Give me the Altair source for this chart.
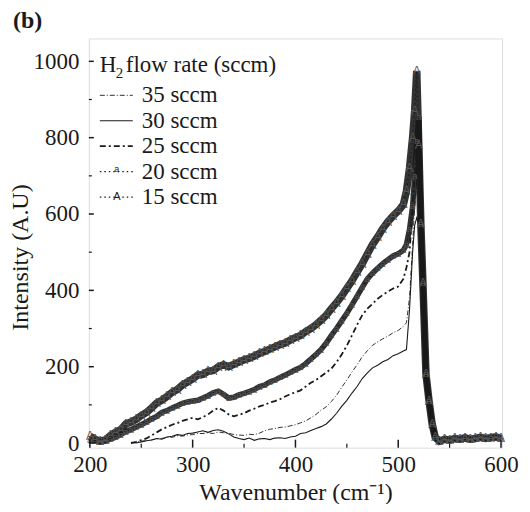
import altair as alt
import pandas as pd

# ---------------- data ----------------
wavenumber = (list(range(200, 510, 5))
              + [508, 511, 514, 516, 518, 520, 522, 524, 527, 530, 533, 536]
              + list(range(540, 605, 5)))

N = None
s15 = [18, 10, 5, 8, 20, 28, 35, 50, 55, 62,
       72, 80, 92, 105, 112, 122, 133, 140, 152, 160,
       168, 178, 180, 188, 190, 200, 205, 200, 206, 212,
       218, 222, 228, 235, 240, 246, 252, 258, 262, 270,
       276, 282, 292, 300, 310, 322, 335, 352, 368, 385,
       405, 425, 448, 470, 495, 520, 540, 562, 580, 595,
       608, 625,
       660, 720, 800, 870, 975, 780, 575, 420, 180, 110, 50, 15,
       5, 10, 8, 12, 10, 14, 10, 12, 15, 12, 14, 16, 12]
s20 = [8, 5, 3, 5, 10, 15, 22, 30, 35, 42,
       48, 55, 63, 70, 80, 85, 92, 98, 104, 108,
       110, 112, 118, 124, 132, 136, 128, 118, 120, 126,
       130, 135, 140, 148, 152, 160, 165, 172, 178, 185,
       192, 198, 208, 220, 232, 245, 262, 282, 300, 320,
       340, 362, 385, 408, 430, 445, 458, 470, 480, 490,
       496, 505,
       520, 560, 620, 700, 790, 855, 575, 420, 180, 110, 50, 15,
       3, 8, 6, 10, 8, 12, 9, 10, 13, 10, 12, 14, 10]
s25 = [N, N, N, N, N, N, N, N, 0, 3,
       8, 12, 20, 28, 36, 42, 48, 52, 58, 62,
       66, 62, 68, 75, 85, 92, 85, 75, 70, 74,
       78, 85, 90, 96, 100, 106, 110, 115, 122, 128,
       133, 138, 148, 158, 165, 175, 185, 195, 212, 232,
       255, 282, 310, 335, 352, 365, 378, 388, 397, 405,
       410, 430,
       460, 500, 620, 700, 750, 700, 575, 420, 180, 110, 50, 15,
       5, 6, 5, 8, 6, 9, 7, 8, 10, 8, 9, 11, 8]
s30 = [N, N, N, N, N, N, N, N, 2, 0,
       3, 6, 8, 12, 10, 16, 18, 22, 20, 25,
       26, 29, 32, 28, 33, 35, 31, 24, 16, 12,
       9, 13, 7, 11, 12, 9, 13, 14, 12, 16,
       18, 25, 27, 33, 38, 43, 50, 63, 78, 96,
       112, 131, 148, 169, 184, 197, 204, 213, 219, 229,
       234, 241,
       245, 350, 500, 570, 590, 575, 560, 420, 180, 110, 50, 15,
       5, 6, 5, 8, 6, 9, 7, 8, 10, 8, 9, 11, 8]
s35 = [N, N, N, N, N, N, N, N, 0, 2,
       5, 6, 8, 11, 12, 15, 15, 19, 18, 21,
       22, 25, 25, 27, 25, 29, 27, 26, 22, 21,
       20, 23, 22, 26, 32, 36, 38, 41, 42, 45,
       48, 53, 58, 66, 75, 86, 95, 109, 125, 146,
       165, 186, 205, 226, 242, 256, 265, 273, 280, 289,
       295, 306,
       315, 380, 520, 620, 680, 650, 575, 420, 180, 110, 50, 15,
       5, 6, 5, 8, 6, 9, 7, 8, 10, 8, 9, 11, 8]

series_names = ["35 sccm", "30 sccm", "25 sccm", "20 sccm", "15 sccm"]
series_values = [s35, s30, s25, s20, s15]
x_major = [200, 300, 400, 500, 600]
x_minor = [250, 350, 450, 550]
y_major = [0, 200, 400, 600, 800, 1000]
y_minor = [100, 300, 500, 700, 900]

for v in series_values:
    assert len(v) == len(wavenumber)

rows = []
for name, vals in zip(series_names, series_values):
    for w, v in zip(wavenumber, vals):
        if v is not None:
            rows.append({"wn": w, "I": v, "series": name})
df = pd.DataFrame(rows)

FONT = "Liberation Serif"
INK = "#1a1a1a"
W, H = 414, 410

xs = alt.Scale(domain=[199, 601], nice=False, zero=False)
ys = alt.Scale(domain=[-12, 1060], nice=False, zero=False)

xax = alt.Axis(values=x_major, ticks=False, domain=False, grid=False, format="d",
               labelFont=FONT, labelFontSize=23, labelColor=INK, labelPadding=6,
               labelFlush=False, title="Wavenumber (cm\u207b\u00b9)",
               titleFont=FONT, titleFontSize=24, titleFontWeight="normal",
               titleColor=INK, titlePadding=4)
yax = alt.Axis(values=y_major, ticks=False, domain=False, grid=False, format="d",
               labelFont=FONT, labelFontSize=23, labelColor=INK, labelPadding=10,
               labelFlush=False, title="Intensity (A.U)",
               titleFont=FONT, titleFontSize=24, titleFontWeight="normal",
               titleColor=INK, titleY=219, titleX=-61, titleBaseline="alphabetic")

X = alt.X("wn:Q", scale=xs, axis=xax)
Y = alt.Y("I:Q", scale=ys, axis=yax)

styles = {
    "35 sccm": dict(strokeWidth=0.9, strokeDash=[5, 2, 1, 2]),
    "30 sccm": dict(strokeWidth=1.1),
    "25 sccm": dict(strokeWidth=1.8, strokeDash=[6, 3, 2, 3]),
    "20 sccm": dict(strokeWidth=1.2, strokeDash=[1.5, 3]),
    "15 sccm": dict(strokeWidth=1.2, strokeDash=[1.5, 3]),
}

base = alt.Chart(df)
layers = []
# dark noisy bands under the marker series
for name, sw in [("20 sccm", 5.5), ("15 sccm", 7.5)]:
    layers.append(base.transform_filter(alt.datum.series == name)
                  .mark_line(color="#161616", strokeWidth=sw, opacity=0.88).encode(x=X, y=Y))
for name in series_names:
    layers.append(base.transform_filter(alt.datum.series == name)
                  .mark_line(color=INK, **styles[name]).encode(x=X, y=Y))

markers = {"20 sccm": ("a", 10), "15 sccm": ("A", 12)}
for name, (ch, fs) in markers.items():
    layers.append(base.transform_filter(alt.datum.series == name)
                  .mark_text(text=ch, font="Liberation Sans", fontSize=fs,
                             color="#555555", baseline="middle")
                  .encode(x=X, y=Y))

# inward ticks
def tick_df(vals, field):
    return alt.Chart(pd.DataFrame({field: vals}))

layers += [
    tick_df(x_major, "wn").mark_rule(color=INK, strokeWidth=1.5).encode(x=X, y=alt.value(H), y2=alt.value(H - 8)),
    tick_df(x_minor, "wn").mark_rule(color=INK, strokeWidth=1.2).encode(x=X, y=alt.value(H), y2=alt.value(H - 4)),
    tick_df(y_major, "I").mark_rule(color=INK, strokeWidth=1.5).encode(y=Y, x=alt.value(0), x2=alt.value(5)),
    tick_df(y_minor, "I").mark_rule(color=INK, strokeWidth=1.2).encode(y=Y, x=alt.value(0), x2=alt.value(3)),
]

# panel label and legend (drawn inside the plot, top-left)
one = alt.Chart(pd.DataFrame({"k": [0]}))
layers.append(one.mark_text(text="(b)", font=FONT, fontSize=24, fontWeight="bold", color=INK,
                            align="left", baseline="alphabetic").encode(x=alt.value(-76), y=alt.value(-10)))
layers.append(one.mark_text(text="H", font=FONT, fontSize=23, color=INK, align="left",
                            baseline="alphabetic").encode(x=alt.value(11), y=alt.value(34)))
layers.append(one.mark_text(text="2", font=FONT, fontSize=15, color=INK, align="left",
                            baseline="alphabetic").encode(x=alt.value(27), y=alt.value(40)))
layers.append(one.mark_text(text="flow rate (sccm)", font=FONT, fontSize=23, color=INK,
                            align="left", baseline="alphabetic").encode(x=alt.value(37), y=alt.value(34)))
for i, name in enumerate(series_names):
    ly = 57 + i * 25.5
    st = styles[name]
    layers.append(one.mark_rule(color=INK, **st).encode(
        x=alt.value(11), x2=alt.value(44), y=alt.value(ly)))
    layers.append(one.mark_text(text=name, font=FONT, fontSize=23, color=INK, align="left",
                                baseline="alphabetic").encode(x=alt.value(53), y=alt.value(ly + 7)))
    if name in markers:
        ch, fs = markers[name]
        layers.append(one.mark_text(text=ch, font="Liberation Sans", fontSize=fs - 1, color=INK,
                                    baseline="middle").encode(
            x=alt.value(28), y=alt.value(ly - 3 if ch == "a" else ly)))

chart = alt.layer(*layers).properties(
    width=W, height=H,
    padding={"left": 81, "top": 30, "right": 20, "bottom": 56},
    autosize=alt.AutoSizeParams(type="none"),
).configure_view(stroke=INK, strokeWidth=1.5).configure(background="white")

chart.save("out.html", embed_options={"renderer": "svg", "actions": False})
